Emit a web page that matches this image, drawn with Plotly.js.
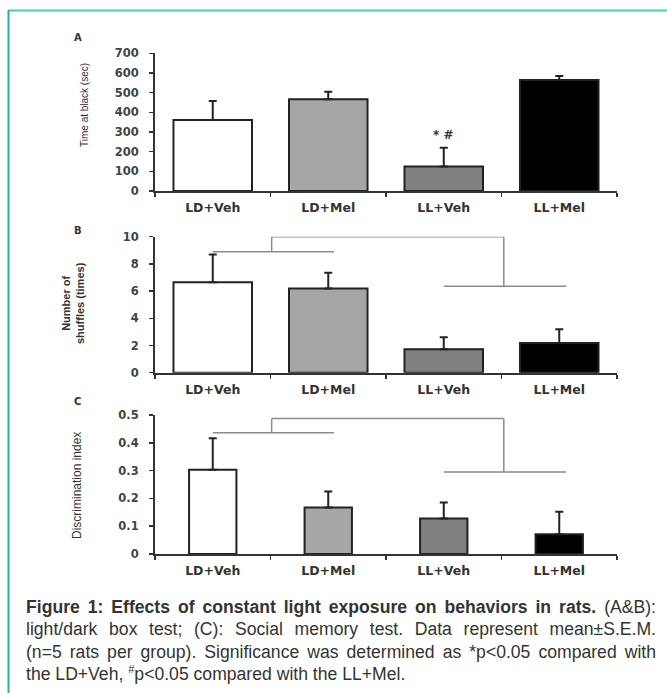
<!DOCTYPE html>
<html>
<head>
<meta charset="utf-8">
<script src="https://cdn.plot.ly/plotly-3.0.1.min.js"></script>
<style>
  html, body { margin: 0; padding: 0; background: #fff; }
  #wrap { position: relative; width: 667px; height: 693px; }
  #chart { position: absolute; left: 0; top: 0; width: 667px; height: 693px; }
  #cap { position: absolute; left: 26px; top: 596px; width: 630px;
         font-family: 'Liberation Sans', Arial, sans-serif; font-size: 17.6px;
         line-height: 22.3px; color: #333; }
  #cap .j { text-align: justify; text-align-last: justify; white-space: nowrap; }
  #cap .l { text-align: left; white-space: nowrap; }
  #cap sup { font-size: 11px; line-height: 0; }
</style>
</head>
<body>
<div id="wrap">
  <div id="chart"></div>
  <div id="cap">
    <div class="j"><b>Figure 1: Effects of constant light exposure on behaviors in rats.</b> (A&amp;B):</div>
    <div class="j">light/dark box test; (C): Social memory test. Data represent mean±S.E.M.</div>
    <div class="j">(n=5 rats per group). Significance was determined as *p&lt;0.05 compared with</div>
    <div class="l">the LD+Veh, <sup>#</sup>p&lt;0.05 compared with the LL+Mel.</div>
  </div>
</div>
<script>
// ---- data ----
const categories = ['LD+Veh', 'LD+Mel', 'LL+Veh', 'LL+Mel'];
const timeAtBlack = [361, 466, 124, 564];
const timeAtBlackSem = [96, 39, 96, 21];
const shuffles = [6.65, 6.2, 1.72, 2.18];
const shufflesSem = [2.05, 1.15, 0.88, 1.02];
const discrimination = [0.303, 0.167, 0.128, 0.071];
const discriminationSem = [0.113, 0.058, 0.057, 0.081];
const barColors = ['#ffffff', '#a6a6a6', '#808080', '#000000'];
const panelLetters = ['A', 'B', 'C'];
const yTitles = ['Time at black (sec)', 'Number of<br>shuffles (times)', 'Discrimination index'];

// significance brackets (levels in data units)
const bracketB = { top: 10, left: 8.9, right: 6.35 };
const bracketC = { top: 0.487, left: 0.436, right: 0.295 };

// ---- helpers ----
const W = 667, H = 693;
const px = v => v / W;
const py = v => 1 - v / H;
const dark = '#222';
const tickFont = { family: 'DejaVu Sans, Arial', size: 11.5, color: '#444', weight: 'bold' };
const catFont = { family: 'DejaVu Sans, Arial', size: 12.5, color: '#333', weight: 'bold' };

function barTrace(vals, errs, xa, ya, width) {
  return {
    type: 'bar', x: categories, y: vals, xaxis: xa, yaxis: ya,
    width: width,
    marker: { color: barColors, line: { color: dark, width: 2 } },
    error_y: { type: 'data', array: errs, arrayminus: errs.map(() => 0), symmetric: false,
               color: dark, thickness: 2, width: 4 },
    hoverinfo: 'skip', showlegend: false
  };
}

const data = [
  barTrace(timeAtBlack, timeAtBlackSem, 'x', 'y', 0.68),
  barTrace(shuffles, shufflesSem, 'x2', 'y2', 0.68),
  barTrace(discrimination, discriminationSem, 'x3', 'y3', 0.41)
];

const xDomain = [px(155), px(617)];
function xAxis(anchor) {
  return {
    domain: xDomain, anchor: anchor, type: 'category', range: [-0.5, 3.5],
    showline: true, linecolor: '#333', linewidth: 2,
    ticks: 'outside', tickson: 'boundaries', ticklen: 4, tickwidth: 1.5, tickcolor: '#333',
    tickfont: catFont, ticklabelstandoff: 4,
    showgrid: false, zeroline: false, fixedrange: true
  };
}
function yAxis(anchor, domain, range, dtick) {
  return {
    domain: domain, anchor: anchor, range: range, dtick: dtick,
    showline: true, linecolor: '#333', linewidth: 2,
    ticks: 'outside', ticklen: 4, tickwidth: 1.5, tickcolor: '#333',
    tickfont: tickFont, ticklabelstandoff: 8,
    showgrid: false, zeroline: false, fixedrange: true
  };
}

function bracketShapes(b, xa, ya) {
  const s = { type: 'line', xref: xa, yref: ya, line: { color: '#8c8c8c', width: 1.5 } };
  return [
    Object.assign({}, s, { x0: 0, x1: 1.05, y0: b.left, y1: b.left }),
    Object.assign({}, s, { x0: 2.0, x1: 3.06, y0: b.right, y1: b.right }),
    Object.assign({}, s, { x0: 0.51, x1: 2.52, y0: b.top, y1: b.top }),
    Object.assign({}, s, { x0: 0.51, x1: 0.51, y0: b.top, y1: b.left }),
    Object.assign({}, s, { x0: 2.52, x1: 2.52, y0: b.top, y1: b.right })
  ];
}

const shapes = [
  { type: 'line', xref: 'paper', yref: 'paper', x0: px(8), x1: 1, y0: py(10.5), y1: py(10.5),
    line: { color: '#45cdb5', width: 2 } },
  { type: 'line', xref: 'paper', yref: 'paper', x0: px(8.5), x1: px(8.5), y0: py(10), y1: 0,
    line: { color: '#2aae9c', width: 2 } }
].concat(bracketShapes(bracketB, 'x2', 'y2'), bracketShapes(bracketC, 'x3', 'y3'));

const letterFont = { family: 'DejaVu Sans, Arial', size: 10, color: '#333', weight: 'bold' };
const C = { showarrow: false, xanchor: 'center', yanchor: 'middle' };
function ann(o) { return Object.assign({}, C, o); }
const annotations = [
  ann({ text: panelLetters[0], xref: 'paper', yref: 'paper', x: px(78), y: py(37), font: letterFont }),
  ann({ text: panelLetters[1], xref: 'paper', yref: 'paper', x: px(78), y: py(230), font: letterFont }),
  ann({ text: panelLetters[2], xref: 'paper', yref: 'paper', x: px(77), y: py(401), font: letterFont }),
  ann({ text: yTitles[0], xref: 'paper', yref: 'paper', x: px(85), y: py(105), textangle: -90,
    font: { family: 'Liberation Sans, Arial', size: 10, color: '#333' } }),
  ann({ text: yTitles[1], xref: 'paper', yref: 'paper', x: px(73), y: py(303), textangle: -90,
    font: { family: 'Liberation Sans, Arial', size: 11, color: '#333', weight: 'bold' } }),
  ann({ text: yTitles[2], xref: 'paper', yref: 'paper', x: px(77), y: py(486), textangle: -90,
    font: { family: 'Liberation Sans, Arial', size: 12, color: '#333' } }),
  ann({ text: '* #', xref: 'x', yref: 'y', x: 2, y: 285,
    font: { family: 'DejaVu Sans, Arial', size: 12, color: '#333', weight: 'bold' } }),
  ann({ text: '*', xref: 'x2', yref: 'y2', x: 1.63, y: 10.45,
    font: { family: 'DejaVu Sans, Arial', size: 13, color: '#333', weight: 'bold' } }),
  ann({ text: '*', xref: 'x3', yref: 'y3', x: 1.63, y: 0.52,
    font: { family: 'DejaVu Sans, Arial', size: 13, color: '#333', weight: 'bold' } })
];

const layout = {
  width: W, height: H,
  margin: { l: 0, r: 0, t: 0, b: 0 },
  paper_bgcolor: '#fff', plot_bgcolor: 'rgba(0,0,0,0)',
  bargap: 0.32,
  xaxis: xAxis('y'),
  yaxis: yAxis('x', [py(191), py(53.3)], [0, 700], 100),
  xaxis2: xAxis('y2'),
  yaxis2: yAxis('x2', [py(372.7), py(236.7)], [0, 10], 2),
  xaxis3: xAxis('y3'),
  yaxis3: yAxis('x3', [py(554), py(415)], [0, 0.5], 0.1),
  shapes: shapes,
  annotations: annotations
};

Plotly.newPlot('chart', data, layout, { staticPlot: true, displayModeBar: false });
</script>
</body>
</html>
